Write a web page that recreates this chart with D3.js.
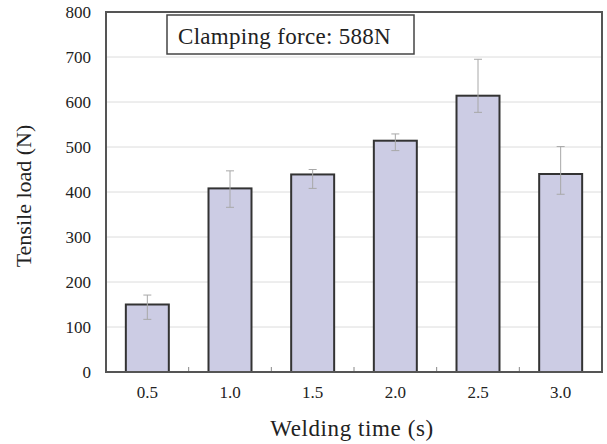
<!DOCTYPE html>
<html>
<head>
<meta charset="utf-8">
<script src="https://cdn.jsdelivr.net/npm/d3@7"></script>
<style>
  body { margin: 0; background: #fff; }
  text { font-family: "Liberation Serif", "Times New Roman", serif; fill: #222; }
</style>
</head>
<body>
<div id="chart"></div>
<script>
// welding time categories and tensile load readings
const times = ["0.5", "1.0", "1.5", "2.0", "2.5", "3.0"];
const loads = [150, 408, 439, 514, 614, 440];
const errHigh = [171, 447, 450, 529, 695, 501];
const errLow = [117, 366, 408, 492, 577, 395];
const yTicks = [0, 100, 200, 300, 400, 500, 600, 700, 800];
const legendLabel = "Clamping force: 588N";

const w = 607, h = 444;
const margin = {top: 12, right: 5, bottom: 72, left: 106};

const svg = d3.select("#chart").append("svg")
    .attr("width", w)
    .attr("height", h);

const x = d3.scaleBand()
    .domain(times)
    .range([margin.left, w - margin.right])
    .paddingInner(0.48)
    .paddingOuter(0.24);

const y = d3.scaleLinear()
    .domain([0, 800])
    .range([h - margin.bottom, margin.top]);

// gridlines
svg.append("g")
    .selectAll("line")
    .data(yTicks.slice(1, -1))
    .enter()
    .append("line")
    .attr("x1", margin.left)
    .attr("x2", w - margin.right)
    .attr("y1", d => y(d))
    .attr("y2", d => y(d))
    .style("stroke", "#dcdcdc")
    .style("stroke-width", 1);

// bars
svg.append("g")
    .selectAll("rect")
    .data(loads)
    .enter()
    .append("rect")
    .attr("x", (d, i) => x(times[i]))
    .attr("y", d => y(d))
    .attr("width", x.bandwidth())
    .attr("height", d => y(0) - y(d))
    .style("fill", "#ccccE4")
    .style("stroke", "#333")
    .style("stroke-width", 2);

// error bars
const eb = svg.append("g")
    .style("stroke", "#a8a8a8")
    .style("stroke-width", 1);
times.forEach(function (t, i) {
    const cx = x(t) + x.bandwidth() / 2;
    eb.append("line").attr("x1", cx).attr("x2", cx).attr("y1", y(errHigh[i])).attr("y2", y(errLow[i]));
    eb.append("line").attr("x1", cx - 4).attr("x2", cx + 4).attr("y1", y(errHigh[i])).attr("y2", y(errHigh[i]));
    eb.append("line").attr("x1", cx - 4).attr("x2", cx + 4).attr("y1", y(errLow[i])).attr("y2", y(errLow[i]));
});

// inward minor ticks between categories
const catW = (w - margin.right - margin.left) / times.length;
svg.append("g")
    .selectAll("line")
    .data(times.slice(1))
    .enter()
    .append("line")
    .attr("x1", (d, i) => margin.left + catW * (i + 1))
    .attr("x2", (d, i) => margin.left + catW * (i + 1))
    .attr("y1", y(0))
    .attr("y2", y(0) - 5)
    .style("stroke", "#888")
    .style("stroke-width", 1);

// frame
svg.append("rect")
    .attr("x", margin.left)
    .attr("y", margin.top)
    .attr("width", w - margin.right - margin.left)
    .attr("height", h - margin.bottom - margin.top)
    .style("fill", "none")
    .style("stroke", "#555")
    .style("stroke-width", 2);

// y tick labels
svg.append("g")
    .selectAll("text")
    .data(yTicks)
    .enter()
    .append("text")
    .attr("x", 91)
    .attr("y", d => y(d) + 6)
    .attr("text-anchor", "end")
    .style("font-size", "17px")
    .text(d => d);

// x tick labels
svg.append("g")
    .selectAll("text")
    .data(times)
    .enter()
    .append("text")
    .attr("x", d => x(d) + x.bandwidth() / 2)
    .attr("y", 398)
    .attr("text-anchor", "middle")
    .style("font-size", "17px")
    .text(d => d);

// axis titles
svg.append("text")
    .attr("x", 352)
    .attr("y", 436)
    .attr("text-anchor", "middle")
    .style("font-size", "23px")
    .style("letter-spacing", "0.6px")
    .text("Welding time (s)");

svg.append("text")
    .attr("transform", "translate(31,196) rotate(-90)")
    .attr("text-anchor", "middle")
    .style("font-size", "22px")
    .text("Tensile load (N)");

// legend box
svg.append("rect")
    .attr("x", 167)
    .attr("y", 15)
    .attr("width", 247)
    .attr("height", 39)
    .style("fill", "#fff")
    .style("stroke", "#444")
    .style("stroke-width", 1.5);

svg.append("text")
    .attr("x", 178)
    .attr("y", 44)
    .style("font-size", "23px")
    .style("letter-spacing", "0.3px")
    .text(legendLabel);
</script>
</body>
</html>
